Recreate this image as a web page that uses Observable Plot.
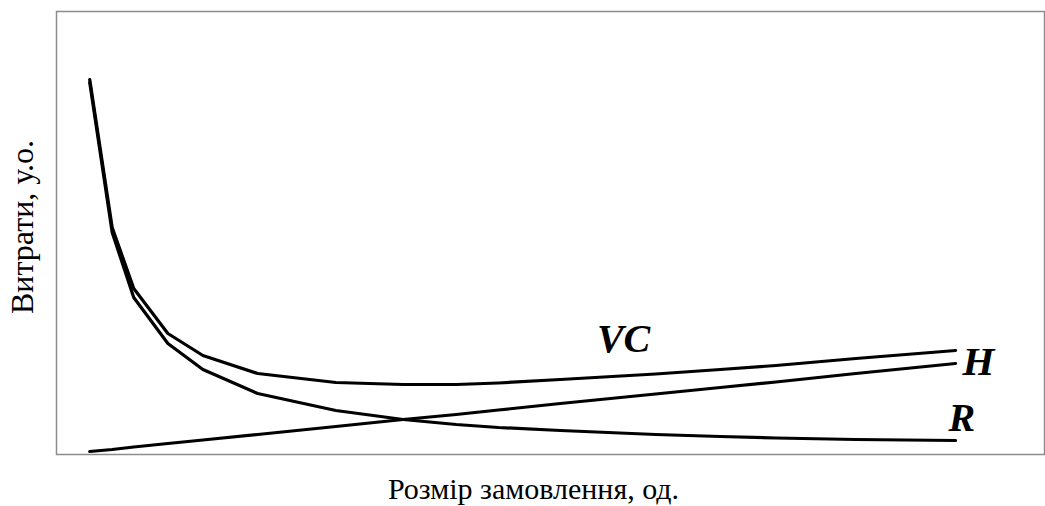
<!DOCTYPE html>
<html>
<head>
<meta charset="utf-8">
<script src="https://cdn.jsdelivr.net/npm/d3@7"></script>
<script src="https://cdn.jsdelivr.net/npm/@observablehq/plot@0.6"></script>
<style>
  html, body { margin: 0; padding: 0; background: #fff; }
  #chart svg { display: block; }
</style>
</head>
<body>
<div id="chart"></div>
<script>
// Order size (units) and cost series
const orderSize = [37, 62, 86, 124, 163, 224, 311, 386, 445, 492, 561, 667, 739, 801, 890, 1001];
const holding   = [3, 5, 7.5, 11, 14.5, 20, 28, 35, 40, 44.5, 51, 60.5, 67, 72.5, 81, 91];
const ordering  = [372, 222, 157, 111, 85, 61, 44, 35, 30, 27, 24, 20, 18, 16.5, 15, 14];
const total     = [375, 227, 166, 121, 99, 81, 72, 70, 70, 71.5, 75, 80.5, 85, 89, 96, 104];

const seriesNames = ["VC", "H", "R"];
const xTitle = "Розмір замовлення, од.";
const yTitle = "Витрати, у.о.";

const toRows = (vals) => orderSize.map((q, i) => ({q, v: vals[i]}));
const vcRows = toRows(total);
const hRows = toRows(holding);
const rRows = toRows(ordering);

const serif = "Liberation Serif, Times New Roman, serif";

const chart = Plot.plot({
  width: 1045,
  height: 506,
  marginLeft: 56,
  marginRight: 1,
  marginTop: 11,
  marginBottom: 52,
  style: {background: "#fff", fontFamily: serif},
  x: {domain: [0, 1100], axis: null},
  y: {domain: [0, 443], axis: null},
  marks: [
    Plot.frame({stroke: "#8c8c8c", strokeWidth: 1.5}),
    Plot.line(rRows, {x: "q", y: "v", stroke: "#000", strokeWidth: 3.2, strokeLinejoin: "round", strokeLinecap: "round"}),
    Plot.line(hRows, {x: "q", y: "v", stroke: "#000", strokeWidth: 3.2, strokeLinejoin: "round", strokeLinecap: "round"}),
    Plot.line(vcRows, {x: "q", y: "v", stroke: "#000", strokeWidth: 3.2, strokeLinejoin: "round", strokeLinecap: "round"}),
    // series labels
    Plot.text([vcRows[11]], {x: "q", y: "v", text: () => seriesNames[0], textAnchor: "middle", lineAnchor: "middle", dx: -32, dy: -35, fontSize: 40, fontFamily: serif, fontWeight: "bold", fontStyle: "italic", fill: "#000"}),
    Plot.text([hRows[hRows.length - 1]], {x: "q", y: "v", text: () => seriesNames[1], textAnchor: "start", lineAnchor: "middle", dx: 7, dy: -2, fontSize: 41, fontFamily: serif, fontWeight: "bold", fontStyle: "italic", fill: "#000"}),
    Plot.text([rRows[rRows.length - 1]], {x: "q", y: "v", text: () => seriesNames[2], textAnchor: "start", lineAnchor: "middle", dx: -7, dy: -22, fontSize: 40, fontFamily: serif, fontWeight: "bold", fontStyle: "italic", fill: "#000"}),
    // axis titles
    Plot.text([xTitle], {frameAnchor: "bottom", text: d => d, lineAnchor: "middle", dx: -17, dy: 35, fontSize: 30, fontFamily: serif, fill: "#000"}),
    Plot.text([yTitle], {frameAnchor: "left", text: d => d, rotate: -90, lineAnchor: "middle", textAnchor: "middle", dx: -34, dy: -6, fontSize: 32, fontFamily: serif, fill: "#000"})
  ]
});
document.getElementById("chart").appendChild(chart);
</script>
</body>
</html>
